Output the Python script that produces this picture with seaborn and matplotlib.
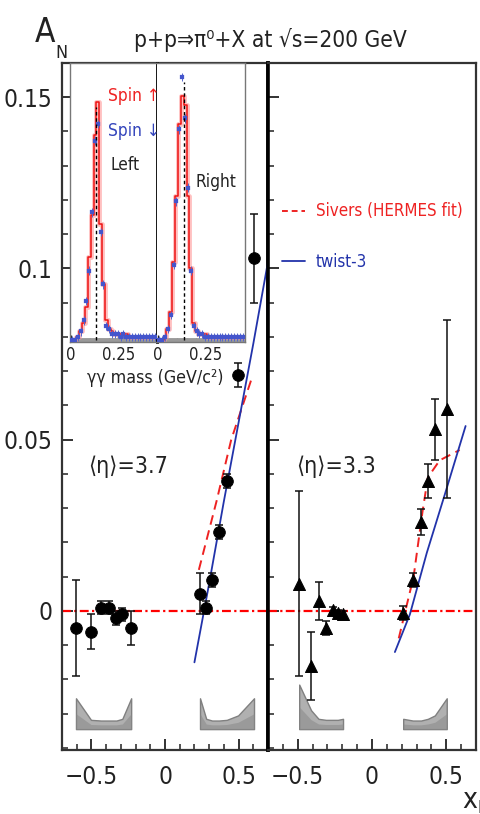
import numpy as np
import pandas as pd
import matplotlib
matplotlib.use("Agg")
import matplotlib.pyplot as plt
import seaborn as sns
from matplotlib.lines import Line2D
from matplotlib.ticker import MultipleLocator, FuncFormatter
from matplotlib import font_manager

# ---------------- data ----------------
# <eta> = 3.7 (circles)
xf_37 = [-0.605, -0.503, -0.435, -0.38, -0.33, -0.29, -0.23,
         0.238, 0.28, 0.32, 0.367, 0.42, 0.497, 0.605]
an_37 = [-0.005, -0.006, 0.001, 0.001, -0.002, -0.001, -0.005,
         0.005, 0.001, 0.009, 0.023, 0.038, 0.069, 0.103]
err_37 = [0.014, 0.005, 0.002, 0.002, 0.002, 0.002, 0.005,
          0.006, 0.002, 0.002, 0.002, 0.002, 0.0035, 0.013]
sys_37 = [0.009, 0.0027, 0.0025, 0.0025, 0.0025, 0.003, 0.009,
          0.009, 0.003, 0.0025, 0.0025, 0.0027, 0.004, 0.009]

# <eta> = 3.3 (triangles)
xf_33 = [-0.49, -0.41, -0.36, -0.31, -0.26, -0.23, -0.195,
         0.21, 0.275, 0.33, 0.376, 0.423, 0.503]
an_33 = [0.008, -0.016, 0.003, -0.005, 0.0003, -0.0006, -0.001,
         -0.0006, 0.009, 0.026, 0.038, 0.053, 0.059]
err_33 = [0.027, 0.010, 0.0055, 0.002, 0.001, 0.001, 0.001,
          0.002, 0.002, 0.0038, 0.005, 0.009, 0.026]
sys_33 = [0.013, 0.0055, 0.003, 0.0027, 0.0027, 0.0027, 0.003,
          0.003, 0.0025, 0.0025, 0.003, 0.004, 0.009]

# model curves
sivers_37_x = [0.23, 0.35, 0.45, 0.59]
sivers_37_y = [0.012, 0.032, 0.050, 0.068]
twist3_37_x = [0.20, 0.30, 0.40, 0.50, 0.60, 0.70]
twist3_37_y = [-0.015, 0.008, 0.032, 0.055, 0.078, 0.102]
sivers_33_x = [0.18, 0.28, 0.34, 0.376, 0.456, 0.59]
sivers_33_y = [-0.008, 0.010, 0.029, 0.039, 0.044, 0.047]
twist3_33_x = [0.154, 0.255, 0.369, 0.49, 0.63]
twist3_33_y = [-0.012, -0.001, 0.017, 0.034, 0.054]

# di-photon invariant mass spectra (arbitrary units), 15 MeV bins
mass_edges = [round(0.015 * i, 4) for i in range(31)]
mass_centers = [round(e + 0.0075, 4) for e in mass_edges[:-1]]
left_up = [0, 0, 0.01, 0.03, 0.06, 0.12, 0.30, 0.45, 0.74, 0.86, 0.42, 0.20,
           0.07, 0.04, 0.03, 0.02, 0.02, 0.02, 0.02, 0.02, 0.01, 0.01, 0.01,
           0.01, 0.01, 0.01, 0.01, 0.01, 0.01, 0.01]
left_down = [0, 0, 0.01, 0.03, 0.07, 0.14, 0.25, 0.46, 0.72, 0.78, 0.39, 0.20,
             0.05, 0.04, 0.02, 0.02, 0.02, 0.01, 0.02, 0.01, 0.01, 0.01, 0.01,
             0.01, 0.01, 0.01, 0.01, 0.01, 0.01, 0.01]
right_up = [0, 0, 0.01, 0.04, 0.10, 0.28, 0.52, 0.78, 0.88, 0.85, 0.52, 0.26,
            0.06, 0.03, 0.02, 0.02, 0.02, 0.01, 0.01, 0.01, 0.01, 0.01, 0.01,
            0.01, 0.01, 0.01, 0.01, 0.01, 0.01, 0.01]
right_down = [0, 0, 0.01, 0.04, 0.09, 0.27, 0.50, 0.76, 0.95, 0.80, 0.55, 0.25,
              0.05, 0.03, 0.02, 0.02, 0.01, 0.01, 0.01, 0.01, 0.01, 0.01, 0.01,
              0.01, 0.01, 0.01, 0.01, 0.01, 0.01, 0.01]
pi0_mass = 0.135

sys_base = -0.0345

# ---------------- style ----------------
sns.set_theme(style="ticks")
fonts = font_manager.fontManager.ttflist
names = {f.name for f in fonts}
condensed = [f for f in fonts if f.name == "DejaVu Sans" and f.stretch == "condensed"
             and f.style == "normal"]
if "Liberation Sans Narrow" in names:
    plt.rcParams["font.family"] = ["Liberation Sans Narrow", "DejaVu Sans"]
    scale = 1.0
elif condensed:
    plt.rcParams["font.family"] = ["DejaVu Sans"]
    plt.rcParams["font.stretch"] = "condensed"
    scale = 0.92
else:
    plt.rcParams["font.family"] = ["Liberation Sans", "DejaVu Sans"]
    scale = 0.86
plt.rcParams["axes.unicode_minus"] = True


def fs(size):
    return size * scale


W, H = 481, 814
fig = plt.figure(figsize=(W / 100, H / 100), dpi=100)


def frac_box(x0, y0, x1, y1):
    return [x0 / W, 1 - y1 / H, (x1 - x0) / W, (y1 - y0) / H]


axL = fig.add_axes(frac_box(62, 63, 268, 750))
axR = fig.add_axes(frac_box(268, 63, 476, 750))

fmt = FuncFormatter(lambda v, p: ("%g" % round(v, 3)).replace("-", "\u2212") if abs(v) > 1e-9 else "0")

for ax in (axL, axR):
    ax.set_xlim(-0.70, 0.70)
    ax.set_ylim(-0.0406, 0.160)
    ax.xaxis.set_major_locator(MultipleLocator(0.5))
    ax.xaxis.set_minor_locator(MultipleLocator(0.1))
    ax.yaxis.set_major_locator(MultipleLocator(0.05))
    ax.yaxis.set_minor_locator(MultipleLocator(0.01))
    ax.xaxis.set_major_formatter(fmt)
    ax.yaxis.set_major_formatter(fmt)
    ax.tick_params(which="both", direction="in", top=False, right=False,
                   left=True, bottom=True, colors="#222222", labelsize=fs(19))
    ax.tick_params(which="major", length=8, width=1.3)
    ax.tick_params(which="minor", length=4, width=1.1)
    ax.tick_params(axis="x", pad=11)
    ax.tick_params(axis="y", pad=7)
    for s in ax.spines.values():
        s.set_color("#333333")
        s.set_linewidth(1.6)
    ax.axhline(0, color="red", lw=1.6, ls=(0, (4, 1.5, 1, 1.5)), zorder=1)

axL.spines["right"].set_color("black")
axL.spines["right"].set_linewidth(2.6)
axR.spines["left"].set_color("black")
axR.spines["left"].set_linewidth(2.6)
axR.tick_params(axis="y", labelleft=False)

# systematic bands
for ax, xs, ss in ((axL, xf_37, sys_37), (axR, xf_33, sys_33)):
    xs = np.array(xs)
    ss = np.array(ss)
    for mask in (xs < 0, xs > 0):
        ax.fill_between(xs[mask], sys_base, sys_base + ss[mask],
                        color="#b0b0b0", edgecolor="#808080", lw=1, zorder=2)
        ax.fill_between(xs[mask], sys_base, sys_base + 0.5 * ss[mask],
                        color="#8c8c8c", lw=0, alpha=0.6, zorder=2)

# model curves
sns.lineplot(x=sivers_37_x, y=sivers_37_y, ax=axL, color="#ee2222", lw=1.4,
             linestyle=(0, (5, 3)), zorder=3)
sns.lineplot(x=twist3_37_x, y=twist3_37_y, ax=axL, color="#2233aa", lw=1.3, zorder=3)
sns.lineplot(x=sivers_33_x, y=sivers_33_y, ax=axR, color="#ee2222", lw=1.4,
             linestyle=(0, (5, 3)), zorder=3)
sns.lineplot(x=twist3_33_x, y=twist3_33_y, ax=axR, color="#2233aa", lw=1.3, zorder=3)

# measured asymmetries
axL.errorbar(xf_37, an_37, yerr=err_37, fmt="none", ecolor="#111111",
             elinewidth=1.1, capsize=2.8, capthick=1.1, zorder=4)
sns.scatterplot(x=xf_37, y=an_37, ax=axL, marker="o", s=70, color="black",
                edgecolor="black", zorder=5)
axR.errorbar(xf_33, an_33, yerr=err_33, fmt="none", ecolor="#111111",
             elinewidth=1.1, capsize=2.8, capthick=1.1, zorder=4)
sns.scatterplot(x=xf_33, y=an_33, ax=axR, marker="^", s=75, color="black",
                edgecolor="black", zorder=5)

axL.text(0.125, 0.412, "\u27e8\u03b7\u27e9=3.7", transform=axL.transAxes,
         fontsize=fs(18), ha="left", va="center", color="#222222")
axR.text(0.135, 0.412, "\u27e8\u03b7\u27e9=3.3", transform=axR.transAxes,
         fontsize=fs(18), ha="left", va="center", color="#222222")

handles = [Line2D([], [], color="#ee2222", lw=1.4, ls=(0, (3, 2))),
           Line2D([], [], color="#2233aa", lw=1.3)]
leg = axR.legend(handles, ["Sivers (HERMES fit)", "twist-3"], frameon=False,
                 loc="upper left", bbox_to_anchor=(0.065, 0.797), borderpad=0,
                 borderaxespad=0, fontsize=fs(13.2), handlelength=1.4,
                 handletextpad=0.65, labelspacing=1.9)
for t, c in zip(leg.get_texts(), ["#ee2222", "#2233aa"]):
    t.set_color(c)

# inset: di-photon mass spectra
insL = fig.add_axes(frac_box(70, 63, 157, 342))
insR = fig.add_axes(frac_box(157, 63, 245, 342))
for ins, up, down in ((insL, left_up, left_down), (insR, right_up, right_down)):
    spec = pd.DataFrame({"mass": mass_centers, "up": up, "down": down})
    ins.set_facecolor("white")
    ins.axhline(0, color="#999999", lw=3.5, zorder=1)
    sns.histplot(data=spec, x="mass", weights="up", bins=mass_edges,
                 element="step", fill=False, color="#ff9999", lw=3.5,
                 alpha=0.6, ax=ins, zorder=2)
    sns.histplot(data=spec, x="mass", weights="up", bins=mass_edges,
                 element="step", fill=False, color="#ee1111", lw=1.1, ax=ins,
                 zorder=3)
    ins.errorbar(spec["mass"], spec["down"], yerr=0.015, fmt="none",
                 ecolor="#5566cc", elinewidth=0.7, zorder=4)
    sns.scatterplot(data=spec, x="mass", y="down", ax=ins, marker="s", s=5,
                    color="#4455cc", edgecolor="#4455cc", zorder=4)
    ins.vlines(pi0_mass, 0, max(max(up), max(down)) * 0.98, colors="black",
               linestyles=(0, (2.5, 2)), lw=1.0, zorder=5)
    ins.set_xlim(-0.004, 0.455)
    ins.set_ylim(-0.008, 1.0)
    ins.set_xlabel("")
    ins.set_ylabel("")
    ins.set_yticks([])
    ins.xaxis.set_major_locator(MultipleLocator(0.25))
    ins.xaxis.set_minor_locator(MultipleLocator(0.05))
    ins.xaxis.set_major_formatter(FuncFormatter(lambda v, p: "%g" % v))
    ins.tick_params(axis="x", which="both", direction="in", labelsize=fs(13),
                    pad=3, colors="#222222")
    ins.tick_params(axis="x", which="major", length=5, width=1.0)
    ins.tick_params(axis="x", which="minor", length=3, width=0.9)
    for s in ins.spines.values():
        s.set_color("#777777")
        s.set_linewidth(1.0)

insL.spines["right"].set_color("black")
insL.spines["right"].set_linewidth(2.0)
insR.spines["left"].set_visible(False)

insL.text(0.73, 0.88, "Spin \u2191", transform=insL.transAxes, ha="center",
          va="center", fontsize=fs(13.5), color="#ee2222")
insL.text(0.73, 0.755, "Spin \u2193", transform=insL.transAxes, ha="center",
          va="center", fontsize=fs(13.5), color="#3344bb")
insL.text(0.63, 0.635, "Left", transform=insL.transAxes, ha="center",
          va="center", fontsize=fs(13.5), color="#222222")
insR.text(0.67, 0.573, "Right", transform=insR.transAxes, ha="center",
          va="center", fontsize=fs(13.5), color="#222222")
fig.text(155 / W, 1 - 378 / H, "\u03b3\u03b3 mass (GeV/c\u00b2)", ha="center",
         va="center", fontsize=fs(13.8), color="#222222")

# title and axis labels
fig.text(270 / W, 1 - 40 / H, "p+p\u21d2\u03c0\u2070+X at \u221as=200 GeV",
         ha="center", va="center", fontsize=fs(17.7), color="#222222")
fig.text(45 / W, 1 - 32 / H, "A", ha="center", va="center", fontsize=fs(26),
         color="#222222")
fig.text(61 / W, 1 - 53 / H, "N", ha="center", va="center", fontsize=fs(14),
         color="#222222")
fig.text(470 / W, 1 - 800 / H, "x", ha="center", va="center", fontsize=fs(22),
         color="#222222")
fig.text(482 / W, 1 - 808 / H, "F", ha="center", va="center", fontsize=fs(13),
         color="#222222")

fig.savefig("out.png", dpi=100)
